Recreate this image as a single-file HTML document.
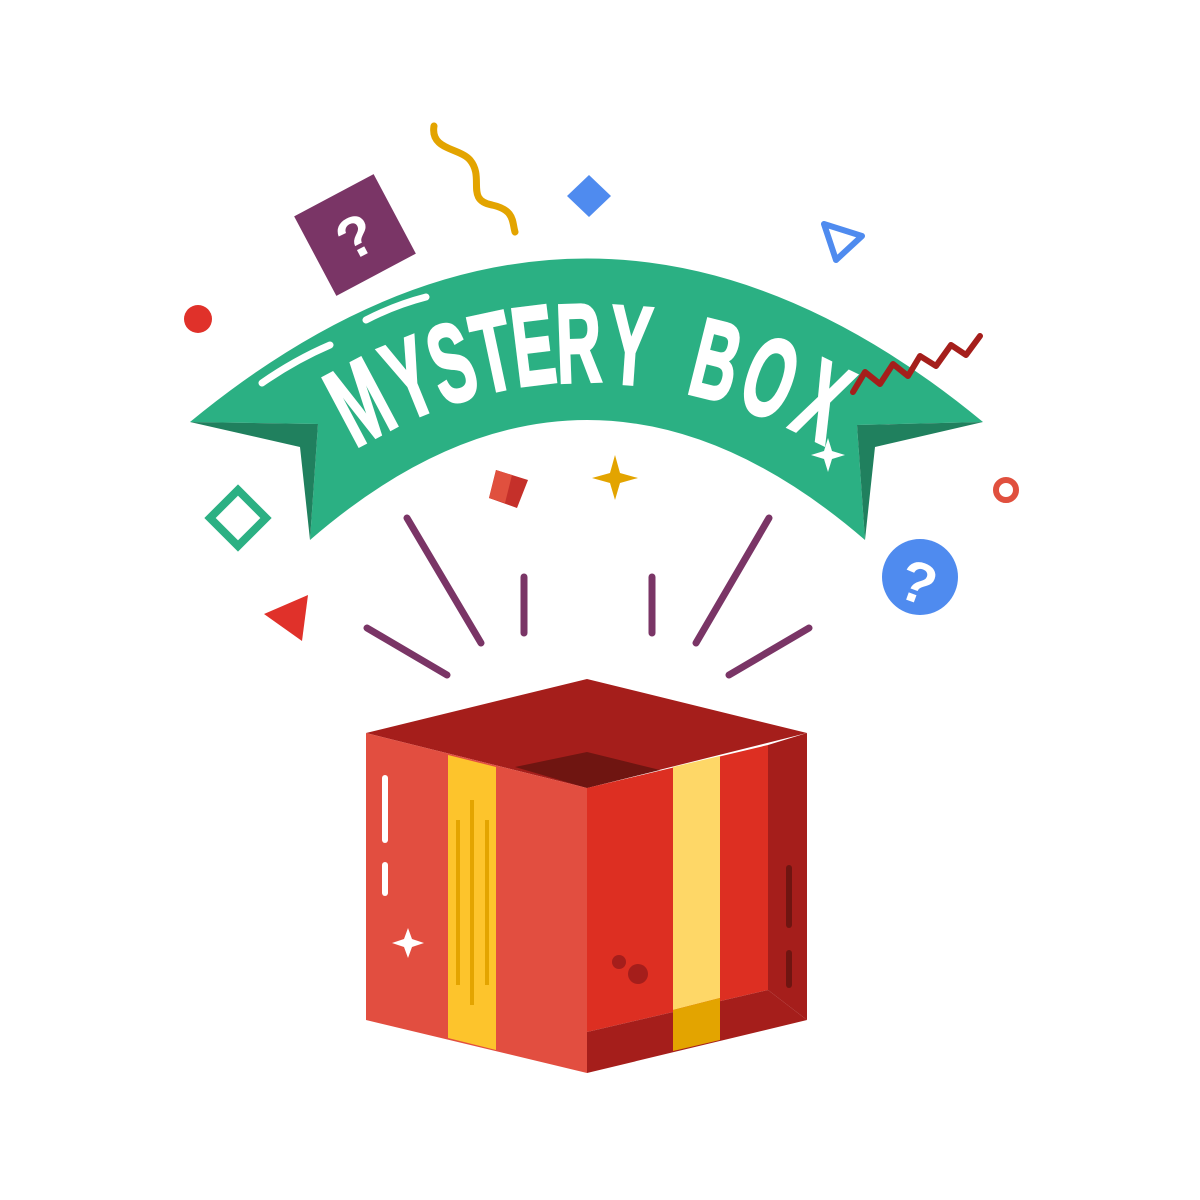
<!DOCTYPE html>
<html><head><meta charset="utf-8"><style>
html,body{margin:0;padding:0;background:#fff;}
svg{display:block;}
</style></head><body>
<svg width="1200" height="1200" viewBox="0 0 1200 1200" xmlns="http://www.w3.org/2000/svg">
<!-- banner -->
<path d="M190,422 Q587,95 983,422 L857,425 L865,540 Q587,300 310,540 L318,424 Z" fill="#2bb083"/>
<polygon points="190,422 300,447 310,540 318,424" fill="#20805e"/>
<polygon points="983,422 875,447 865,540 857,425" fill="#20805e"/>
<path d="M262,383 Q295,360 330,345" stroke="#fff" stroke-width="7" fill="none" stroke-linecap="round"/>
<path d="M366,320 Q395,305 426,297" stroke="#fff" stroke-width="7" fill="none" stroke-linecap="round"/>
<g font-family="'Liberation Sans',sans-serif" font-weight="bold" font-size="112" fill="#fff" stroke="#fff" stroke-width="3" text-anchor="middle">
<text transform="translate(378,436) rotate(-28) scale(0.56,1)">M</text>
<text transform="translate(424,414) rotate(-22) scale(0.56,1)">Y</text>
<text transform="translate(463,400) rotate(-17) scale(0.56,1)">S</text>
<text transform="translate(501,390) rotate(-12) scale(0.56,1)">T</text>
<text transform="translate(538,384) rotate(-7) scale(0.56,1)">E</text>
<text transform="translate(580,382) rotate(-2) scale(0.56,1)">R</text>
<text transform="translate(628,384) rotate(4) scale(0.56,1)">Y</text>
<text transform="translate(707,398) rotate(14) scale(0.56,1)">B</text>
<text transform="translate(757,414) rotate(20) scale(0.56,1)">O</text>
<text transform="translate(806,436) rotate(26) scale(0.56,1)">X</text>
</g>
<!-- decorations -->
<g transform="translate(355,235) rotate(-28)"><rect x="-45" y="-45" width="90" height="90" fill="#7a3566"/><text x="0" y="22" text-anchor="middle" font-family="'Liberation Sans',sans-serif" font-weight="bold" font-size="58" fill="#fff">?</text></g>
<path d="M434,126 C430,150 460,148 470,160 C485,178 465,200 492,205 C515,210 512,222 515,232" stroke="#e3a400" stroke-width="7" fill="none" stroke-linecap="round"/>
<polygon points="589,175 611,196 589,217 567,196" fill="#4f8bef"/>
<polygon points="824,224 862,236 836,260" fill="none" stroke="#4f8bef" stroke-width="6" stroke-linejoin="round"/>
<circle cx="198" cy="319" r="14" fill="#e0312a"/>
<polyline points="853,392 865,372 880,384 893,364 908,376 920,356 936,366 951,345 966,355 980,336" fill="none" stroke="#a51e1b" stroke-width="6" stroke-linejoin="round" stroke-linecap="round"/>
<path d="M828,438 L832,451 L845,455 L832,459 L828,472 L824,459 L811,455 L824,451 Z" fill="#fff"/>
<circle cx="1006" cy="490" r="10" fill="none" stroke="#e0503e" stroke-width="6"/>
<circle cx="920" cy="577" r="38" fill="#4f8bef"/>
<text x="920" y="603" text-anchor="middle" font-family="'Liberation Sans',sans-serif" font-weight="bold" font-size="58" fill="#fff" transform="rotate(20 920 577)">?</text>
<polygon points="238,490 266,518 238,546 210,518" fill="none" stroke="#2bb083" stroke-width="8"/>
<polygon points="496,470 528,480 517,508 489,498" fill="#c5302a"/>
<polygon points="496,470 512,475 505,503 489,498" fill="#e0503e"/>
<path d="M615,455 L620,473 L638,478 L620,483 L615,500 L610,483 L592,478 L610,473 Z" fill="#e3a400"/>
<polygon points="264,614 308,595 302,641" fill="#e0312a"/>
<g stroke="#7a3566" stroke-width="7" stroke-linecap="round">
<line x1="407" y1="518" x2="481" y2="643"/>
<line x1="524" y1="577" x2="524" y2="633"/>
<line x1="652" y1="577" x2="652" y2="633"/>
<line x1="769" y1="518" x2="696" y2="643"/>
<line x1="367" y1="628" x2="447" y2="675"/>
<line x1="809" y1="628" x2="729" y2="675"/>
</g>
<!-- box -->
<polygon points="366,733 587,679 807,733 587,788" fill="#a51e1b"/>
<polygon points="515,767 587,752 660,770 587,788" fill="#6f1511"/>
<polygon points="366,733 587,788 587,1073 366,1020" fill="#e24e40"/>
<polygon points="448,755 496,767 496,1050 448,1038" fill="#fdc42c"/>
<g stroke="#e3a400" stroke-width="4"><line x1="458" y1="820" x2="458" y2="985"/><line x1="472" y1="800" x2="472" y2="1005"/><line x1="487" y1="820" x2="487" y2="985"/></g>
<polygon points="587,788 768,745 768,990 587,1032" fill="#dd2f22"/>
<polygon points="768,745 807,733 807,1020 768,990" fill="#a51e1b"/>
<polygon points="587,1032 768,990 807,1020 587,1073" fill="#a51e1b"/>
<polygon points="673,767 720,756 720,998 673,1010" fill="#fed767"/>
<polygon points="673,1010 720,998 720,1040 673,1051" fill="#e3a400"/>
<g stroke="#fff" stroke-width="6" stroke-linecap="round"><line x1="385" y1="778" x2="385" y2="840"/><line x1="385" y1="865" x2="385" y2="893"/></g>
<path d="M408,928 L412,939 L424,943 L412,947 L408,958 L404,947 L392,943 L404,939 Z" fill="#fff"/>
<circle cx="619" cy="962" r="7" fill="#a51e1b"/><circle cx="638" cy="974" r="10" fill="#a51e1b"/>
<g stroke="#6f1511" stroke-width="6" stroke-linecap="round"><line x1="789" y1="868" x2="789" y2="925"/><line x1="789" y1="953" x2="789" y2="985"/></g>
</svg>
</body></html>
